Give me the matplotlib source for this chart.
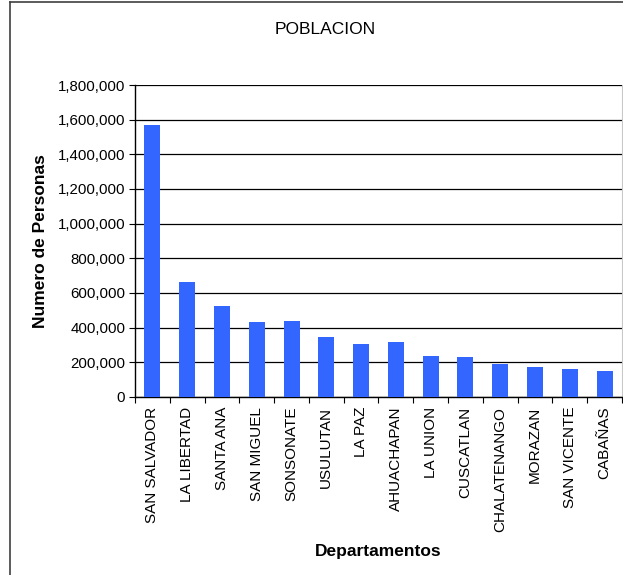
import matplotlib
matplotlib.use("Agg")
import matplotlib.pyplot as plt
from matplotlib.lines import Line2D
from matplotlib.ticker import FuncFormatter, MultipleLocator, FixedLocator
import numpy as np

plt.rcParams['font.family'] = ['Liberation Sans', 'DejaVu Sans']

# Poblacion por departamento
departamentos = ["SAN SALVADOR", "LA LIBERTAD", "SANTA ANA", "SAN MIGUEL", "SONSONATE",
                 "USULUTAN", "LA PAZ", "AHUACHAPAN", "LA UNION", "CUSCATLAN",
                 "CHALATENANGO", "MORAZAN", "SAN VICENTE", "CABAÑAS"]
poblacion = [1567156, 660652, 523655, 434003, 438960,
             344235, 308087, 319503, 238217, 231480,
             192788, 174426, 161645, 149326]

fig = plt.figure(figsize=(6.23, 5.75), dpi=100)
ax = fig.add_axes([135 / 623, 178 / 575, 487 / 623, 312 / 575])

x = np.arange(len(departamentos))
ax.bar(x, poblacion, width=0.46, color="#3366FF", zorder=3)

ax.set_xlim(-0.5, len(departamentos) - 0.5)
ax.set_ylim(0, 1800000)
ax.yaxis.set_major_locator(MultipleLocator(200000))
ax.yaxis.set_major_formatter(FuncFormatter(lambda v, p: f"{int(v):,}"))
ax.grid(axis="y", color="black", linewidth=0.9, zorder=0)

ax.set_xticks(x)
ax.set_xticklabels(departamentos, rotation=90, fontsize=11)
ax.xaxis.set_minor_locator(FixedLocator(np.arange(-0.5, len(departamentos), 1)))
ax.tick_params(axis="x", which="major", length=0, pad=7)
ax.tick_params(axis="x", which="minor", length=4, width=0.8, direction="out")
ax.tick_params(axis="y", length=4, width=0.8, labelsize=10.8, pad=3)

ax.spines["top"].set_visible(False)
ax.spines["right"].set_color("#c8c8c8")
ax.spines["left"].set_linewidth(1.0)
ax.spines["bottom"].set_linewidth(1.0)

ax.set_ylabel("Numero de Personas", fontsize=12.5, fontweight="bold", labelpad=7)
ax.set_xlabel("Departamentos", fontsize=12.5, fontweight="bold", labelpad=9)
fig.text(0.5217, 1 - 30 / 575, "POBLACION", ha="center", va="center", fontsize=12.5)

# marco del grafico
fig.add_artist(Line2D([10 / 623, 10 / 623], [0, 1 - 2 / 575], color="#404040", linewidth=1.2))
fig.add_artist(Line2D([10 / 623, 1], [1 - 2 / 575, 1 - 2 / 575], color="#404040", linewidth=1.2))

fig.savefig("out.png", dpi=100)
